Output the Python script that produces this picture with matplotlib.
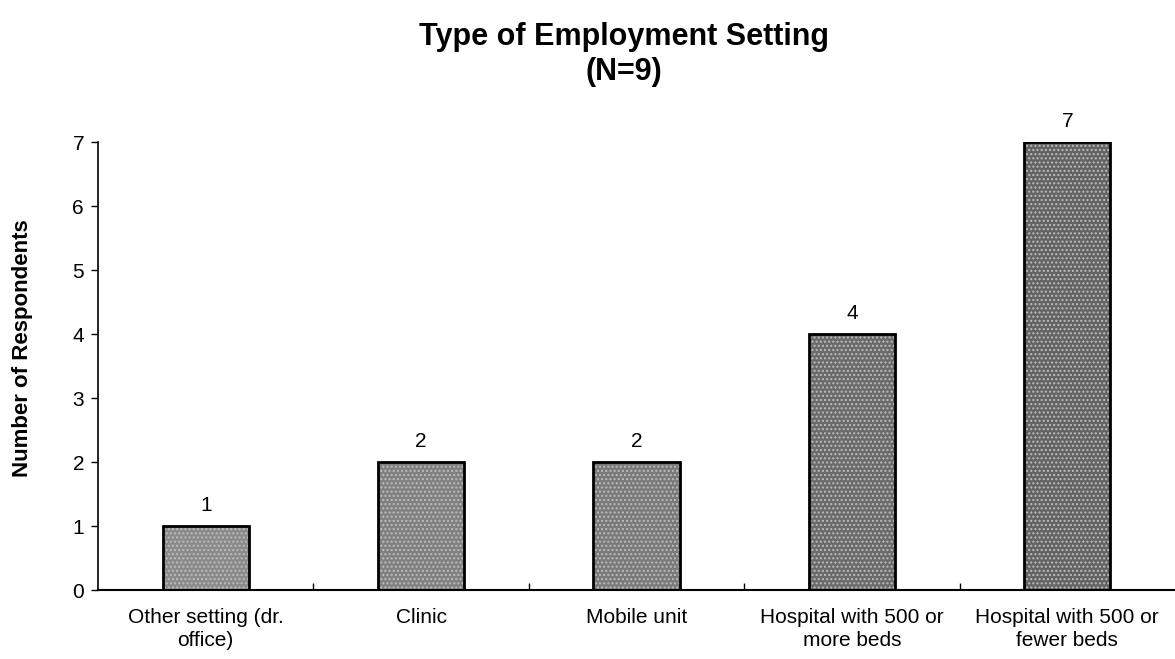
import matplotlib
matplotlib.use("Agg")
import matplotlib.pyplot as plt

plt.rcParams['font.family'] = ['Liberation Sans', 'DejaVu Sans']

categories = ['Other setting (dr.\noffice)', 'Clinic', 'Mobile unit',
              'Hospital with 500 or\nmore beds', 'Hospital with 500 or\nfewer beds']
counts = [1, 2, 2, 4, 7]
bar_colors = ['#8a8a8a', '#808080', '#7a7a7a', '#6a6a6a', '#636363']
yticks = [0, 1, 2, 3, 4, 5, 6, 7]

fig = plt.figure(figsize=(11.75, 6.59), dpi=100)
ax = fig.add_axes([98 / 1175, 1 - 590 / 659, 1 - 98 / 1175, (590 - 142) / 659])

x = range(len(categories))
bars = ax.bar(x, counts, width=0.4, color=bar_colors, edgecolor='black', linewidth=2, hatch='....')
for b in bars:
    b._hatch_color = (0.74, 0.74, 0.74, 1.0)

for xi, v in zip(x, counts):
    ax.text(xi, v + 0.17, str(v), ha='center', va='bottom', fontsize=15)

ax.set_xlim(-0.5, len(categories) - 0.5)
ax.set_ylim(0, 7)
ax.set_yticks(yticks)
ax.tick_params(axis='y', labelsize=15, direction='out', length=5, width=1, pad=5)

# category labels centred on bars, ticks at category boundaries
ax.set_xticks(list(x))
ax.set_xticklabels(categories, fontsize=15, linespacing=1.25)
ax.tick_params(axis='x', length=0, pad=13)
ax.set_xticks([i + 0.5 for i in range(len(categories) - 1)], minor=True)
ax.tick_params(axis='x', which='minor', direction='in', length=5, width=1)

for s in ['top', 'right']:
    ax.spines[s].set_visible(False)
ax.spines['left'].set_linewidth(1.2)
ax.spines['bottom'].set_linewidth(1.5)

fig.text(23 / 1175, 1 - 348 / 659, 'Number of Respondents', rotation=90, ha='center', va='center',
         fontsize=16, fontweight='bold')

fig.text(624 / 1175, 1 - 37 / 659, 'Type of Employment Setting', ha='center', va='center',
         fontsize=22, fontweight='bold')
fig.text(624 / 1175, 1 - 72 / 659, '(N=9)', ha='center', va='center',
         fontsize=22, fontweight='bold')

fig.savefig('out.png', dpi=100)
